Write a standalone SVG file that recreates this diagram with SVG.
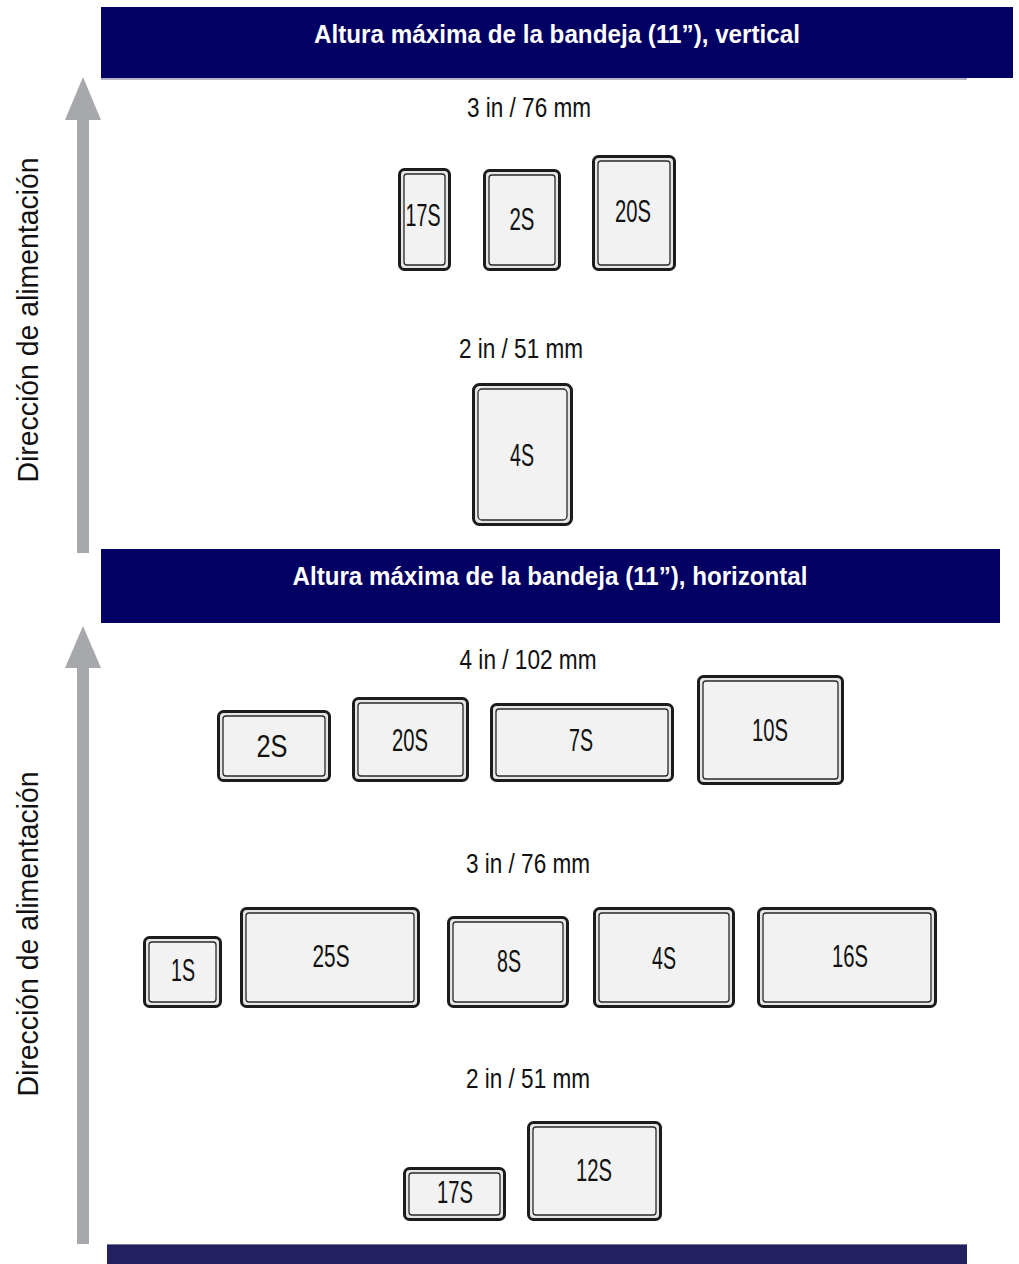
<svg xmlns="http://www.w3.org/2000/svg" width="1019" height="1264" viewBox="0 0 1019 1264">
  <style>
    .bar { fill: #020063; }
    .bar-title { fill: #ffffff; font-family: "Liberation Sans", Arial, sans-serif; font-weight: bold; font-size: 25px; text-anchor: middle; }
    .feed { fill: #a7a8ab; }
    .feed-label { fill: #111111; font-family: "Liberation Sans", Arial, sans-serif; font-size: 29px; text-anchor: middle; }
    .size { fill: #111111; font-family: "Liberation Sans", Arial, sans-serif; font-size: 28px; text-anchor: middle; }
    .tray-outer { fill: #e6e6e6; stroke: #1c1c1c; stroke-width: 3; }
    .tray-inner { fill: #f2f2f2; stroke: #2a2a2a; stroke-width: 1.3; }
    .tray-label { fill: #111111; font-family: "Liberation Sans", Arial, sans-serif; font-size: 32px; text-anchor: middle; }
  </style>

  <!-- header bars -->
  <g id="header-vertical">
    <rect x="101" y="78" width="866" height="2" fill="#b4b4c4"/>
    <rect class="bar" x="101" y="7" width="912" height="71"/>
    <text class="bar-title" x="557" y="43" textLength="486" lengthAdjust="spacingAndGlyphs">Altura máxima de la bandeja (11”), vertical</text>
  </g>
  <g id="header-horizontal">
    <rect class="bar" x="101" y="549" width="899" height="74"/>
    <text class="bar-title" x="550" y="585" textLength="515" lengthAdjust="spacingAndGlyphs">Altura máxima de la bandeja (11”), horizontal</text>
  </g>
  <g id="footer-bar">
    <rect x="107" y="1244" width="860" height="20" fill="#22205f"/>
    <rect x="107" y="1244" width="860" height="1" fill="#7a79a0"/>
  </g>

  <!-- feed direction arrows -->
  <g id="connectors">
    <g id="feed-arrow-vertical">
      <rect class="feed" x="77" y="118" width="12" height="435"/>
      <polygon class="feed" points="83,77 101,120 65,120"/>
    </g>
    <g id="feed-arrow-horizontal">
      <rect class="feed" x="77" y="666" width="12" height="578"/>
      <polygon class="feed" points="83,626 101,668 65,668"/>
    </g>
  </g>
  <text class="feed-label" transform="translate(38,320) rotate(-90)" textLength="325" lengthAdjust="spacingAndGlyphs">Dirección de alimentación</text>
  <text class="feed-label" transform="translate(38,934) rotate(-90)" textLength="325" lengthAdjust="spacingAndGlyphs">Dirección de alimentación</text>

  <!-- height labels -->
  <text class="size" x="529" y="117" textLength="124" lengthAdjust="spacingAndGlyphs">3 in / 76 mm</text>
  <text class="size" x="521" y="358" textLength="124" lengthAdjust="spacingAndGlyphs">2 in / 51 mm</text>
  <text class="size" x="528" y="669" textLength="137" lengthAdjust="spacingAndGlyphs">4 in / 102 mm</text>
  <text class="size" x="528" y="873" textLength="124" lengthAdjust="spacingAndGlyphs">3 in / 76 mm</text>
  <text class="size" x="528" y="1088" textLength="124" lengthAdjust="spacingAndGlyphs">2 in / 51 mm</text>

  <!-- vertical orientation trays -->
  <g id="v-17S">
    <rect class="tray-outer" x="399.5" y="169.5" width="50" height="100" rx="5"/>
    <rect class="tray-inner" x="404" y="174" width="41" height="91" rx="3"/>
    <text class="tray-label" x="423" y="226" textLength="35" lengthAdjust="spacingAndGlyphs">17S</text>
  </g>
  <g id="v-2S">
    <rect class="tray-outer" x="484.5" y="170.5" width="75" height="99" rx="5"/>
    <rect class="tray-inner" x="489" y="175" width="66" height="90" rx="3"/>
    <text class="tray-label" x="522" y="230" textLength="25" lengthAdjust="spacingAndGlyphs">2S</text>
  </g>
  <g id="v-20S">
    <rect class="tray-outer" x="593.5" y="156.5" width="81" height="113" rx="5"/>
    <rect class="tray-inner" x="598" y="161" width="72" height="104" rx="3"/>
    <text class="tray-label" x="633" y="222" textLength="36" lengthAdjust="spacingAndGlyphs">20S</text>
  </g>
  <g id="v-4S">
    <rect class="tray-outer" x="473.5" y="384.5" width="98" height="140" rx="6"/>
    <rect class="tray-inner" x="478" y="389" width="89" height="131" rx="4"/>
    <text class="tray-label" x="522" y="466" textLength="24" lengthAdjust="spacingAndGlyphs">4S</text>
  </g>

  <!-- horizontal orientation trays, 4 in -->
  <g id="h-2S">
    <rect class="tray-outer" x="218.5" y="711.5" width="111" height="69" rx="5"/>
    <rect class="tray-inner" x="223" y="716" width="102" height="60" rx="3"/>
    <text class="tray-label" x="272" y="757" textLength="31" lengthAdjust="spacingAndGlyphs">2S</text>
  </g>
  <g id="h-20S">
    <rect class="tray-outer" x="353.5" y="698.5" width="114" height="82" rx="5"/>
    <rect class="tray-inner" x="358" y="703" width="105" height="73" rx="3"/>
    <text class="tray-label" x="410" y="751" textLength="36" lengthAdjust="spacingAndGlyphs">20S</text>
  </g>
  <g id="h-7S">
    <rect class="tray-outer" x="491.5" y="704.5" width="181" height="76" rx="5"/>
    <rect class="tray-inner" x="496" y="709" width="172" height="67" rx="3"/>
    <text class="tray-label" x="581" y="751" textLength="24" lengthAdjust="spacingAndGlyphs">7S</text>
  </g>
  <g id="h-10S">
    <rect class="tray-outer" x="698.5" y="676.5" width="144" height="107" rx="5"/>
    <rect class="tray-inner" x="703" y="681" width="135" height="98" rx="3"/>
    <text class="tray-label" x="770" y="741" textLength="36" lengthAdjust="spacingAndGlyphs">10S</text>
  </g>

  <!-- horizontal orientation trays, 3 in -->
  <g id="h-1S">
    <rect class="tray-outer" x="144.5" y="937.5" width="76" height="69" rx="5"/>
    <rect class="tray-inner" x="149" y="942" width="67" height="60" rx="3"/>
    <text class="tray-label" x="183" y="981" textLength="24" lengthAdjust="spacingAndGlyphs">1S</text>
  </g>
  <g id="h-25S">
    <rect class="tray-outer" x="241.5" y="908.5" width="177" height="98" rx="5"/>
    <rect class="tray-inner" x="246" y="913" width="168" height="89" rx="3"/>
    <text class="tray-label" x="331" y="967" textLength="37" lengthAdjust="spacingAndGlyphs">25S</text>
  </g>
  <g id="h-8S">
    <rect class="tray-outer" x="448.5" y="917.5" width="119" height="89" rx="5"/>
    <rect class="tray-inner" x="453" y="922" width="110" height="80" rx="3"/>
    <text class="tray-label" x="509" y="972" textLength="24" lengthAdjust="spacingAndGlyphs">8S</text>
  </g>
  <g id="h-4S">
    <rect class="tray-outer" x="594.5" y="908.5" width="139" height="98" rx="5"/>
    <rect class="tray-inner" x="599" y="913" width="130" height="89" rx="3"/>
    <text class="tray-label" x="664" y="969" textLength="24" lengthAdjust="spacingAndGlyphs">4S</text>
  </g>
  <g id="h-16S">
    <rect class="tray-outer" x="758.5" y="908.5" width="177" height="98" rx="5"/>
    <rect class="tray-inner" x="763" y="913" width="168" height="89" rx="3"/>
    <text class="tray-label" x="850" y="967" textLength="36" lengthAdjust="spacingAndGlyphs">16S</text>
  </g>

  <!-- horizontal orientation trays, 2 in -->
  <g id="h-17S">
    <rect class="tray-outer" x="404.5" y="1168.5" width="100" height="51" rx="5"/>
    <rect class="tray-inner" x="409" y="1173" width="91" height="42" rx="3"/>
    <text class="tray-label" x="455" y="1203" textLength="36" lengthAdjust="spacingAndGlyphs">17S</text>
  </g>
  <g id="h-12S">
    <rect class="tray-outer" x="528.5" y="1122.5" width="132" height="97" rx="5"/>
    <rect class="tray-inner" x="533" y="1127" width="123" height="88" rx="3"/>
    <text class="tray-label" x="594" y="1181" textLength="36" lengthAdjust="spacingAndGlyphs">12S</text>
  </g>
</svg>
